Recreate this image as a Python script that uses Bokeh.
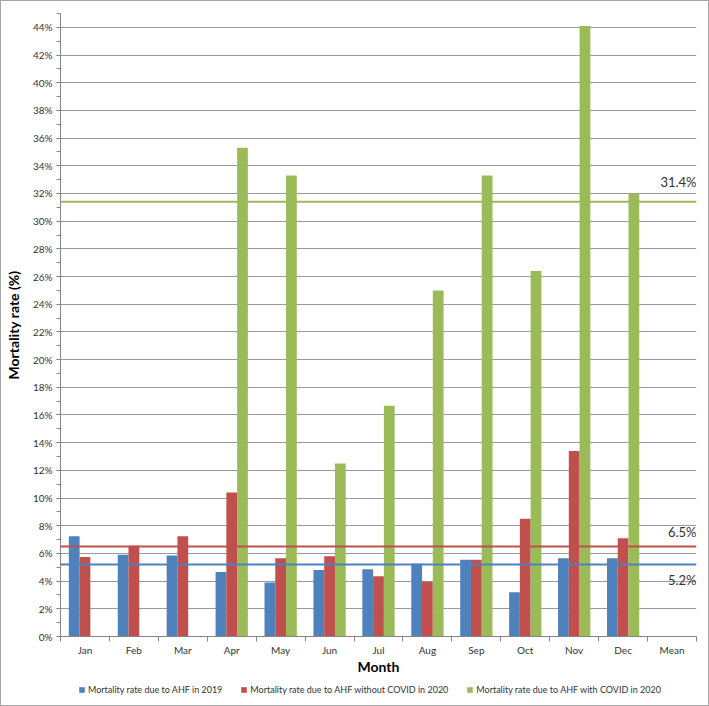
import numpy as np
from bokeh.plotting import figure
from bokeh.layouts import column
from bokeh.models import (ColumnDataSource, Range1d, FixedTicker, SingleIntervalTicker,
                          CustomJSTickFormatter, Span, Label, Legend, LegendItem)
from bokeh.transform import dodge
from bokeh.embed import file_html
from bokeh.resources import INLINE

# ---------------- data ----------------
categories = ["Jan", "Feb", "Mar", "Apr", "May", "Jun", "Jul", "Aug", "Sep", "Oct", "Nov", "Dec", "Mean"]
months = categories[:12]
rate_2019 = [7.25, 5.9, 5.85, 4.65, 3.9, 4.8, 4.85, 5.25, 5.55, 3.2, 5.65, 5.65]
rate_2020_no_covid = [5.75, 6.55, 7.25, 10.4, 5.65, 5.8, 4.35, 3.95, 5.55, 8.5, 13.4, 7.1]
rate_2020_covid = [0, 0, 0, 35.3, 33.3, 12.5, 16.67, 25.0, 33.3, 26.4, 44.1, 32.0]
means = [5.2, 6.5, 31.4]
series_names = ["Mortality rate due to AHF in 2019",
                "Mortality rate due to AHF without COVID in 2020",
                "Mortality rate due to AHF with COVID in 2020"]

# ---------------- styles ----------------
colors = ["#4F81BD", "#C0504D", "#9BBB59"]
FONT = "Lato"
GRID = "#9a9a9a"
AXIS = "#868686"
TXT = "#333333"

src = ColumnDataSource(dict(
    x=np.arange(len(months)) + 0.5,
    a=rate_2019, b=rate_2020_no_covid, c=rate_2020_covid,
))

p = figure(frame_width=636, frame_height=623, output_backend="svg", toolbar_location=None,
           x_range=Range1d(0, len(categories)), y_range=Range1d(0, 45),
           min_border_left=59, min_border_right=12, min_border_top=12, min_border_bottom=44)
p.outline_line_color = None
p.background_fill_color = "white"
p.border_fill_color = "white"

bar_w = 0.22
p.vbar(x=dodge("x", -bar_w, range=p.x_range), top="a", width=bar_w, bottom=0,
       source=src, fill_color=colors[0], line_color=None)
p.vbar(x=dodge("x", 0, range=p.x_range), top="b", width=bar_w, bottom=0,
       source=src, fill_color=colors[1], line_color=None)
p.vbar(x=dodge("x", bar_w, range=p.x_range), top="c", width=bar_w, bottom=0,
       source=src, fill_color=colors[2], line_color=None)

# mean lines and labels
offsets = [(-7, "top"), (7, "bottom"), (12, "bottom")]
for m, col, (off, base) in zip(means, colors, offsets):
    p.add_layout(Span(location=m, dimension="width", line_color=col, line_width=2))
    p.add_layout(Label(x=len(categories), y=m, text=f"{m:.1f}%", text_align="right",
                       text_baseline=base, y_offset=off, x_offset=0,
                       text_font=FONT, text_font_size="13px", text_color=TXT))

# grid
p.xgrid.grid_line_color = None
p.ygrid.grid_line_color = GRID
p.ygrid.grid_line_width = 1

# y axis
ya = p.yaxis[0]
ya.ticker = SingleIntervalTicker(interval=2, num_minor_ticks=2)
ya.formatter = CustomJSTickFormatter(code="return tick.toFixed(0) + '%';")
ya.axis_label = "Mortality rate (%)"
ya.axis_label_text_font = FONT
ya.axis_label_text_font_style = "bold"
ya.axis_label_text_font_size = "14px"
ya.axis_label_text_color = "#000000"
ya.axis_label_standoff = 8
ya.major_label_text_font = FONT
ya.major_label_text_font_size = "10px"
ya.major_label_text_color = TXT
ya.major_label_standoff = 4
ya.axis_line_color = AXIS
ya.major_tick_line_color = AXIS
ya.minor_tick_line_color = AXIS
ya.major_tick_in = 0
ya.major_tick_out = 4
ya.minor_tick_in = 0
ya.minor_tick_out = 4

# x axis: labels at category centres, ticks at category boundaries
xa = p.xaxis[0]
centres = [i + 0.5 for i in range(len(categories))]
xa.ticker = FixedTicker(ticks=centres, minor_ticks=list(range(len(categories) + 1)))
xa.major_label_overrides = {c: lab for c, lab in zip(centres, categories)}
xa.axis_label = "Month"
xa.axis_label_text_font = FONT
xa.axis_label_text_font_style = "bold"
xa.axis_label_text_font_size = "14px"
xa.axis_label_text_color = "#000000"
xa.axis_label_standoff = -1
xa.major_label_text_font = FONT
xa.major_label_text_font_size = "10px"
xa.major_label_text_color = TXT
xa.major_label_standoff = 2
xa.axis_line_color = AXIS
xa.major_tick_line_color = None
xa.major_tick_in = 0
xa.major_tick_out = 5
xa.minor_tick_line_color = AXIS
xa.minor_tick_in = 0
xa.minor_tick_out = 5

# legend strip below the chart (zero-height proxy bars carry the legend swatches)
lf = figure(width=707, height=25, output_backend="svg", toolbar_location=None,
            x_axis_type=None, y_axis_type=None, min_border=0,
            x_range=Range1d(0, 1), y_range=Range1d(0, 1))
lf.outline_line_color = None
lf.background_fill_color = "white"
lf.border_fill_color = "white"
proxies = [lf.vbar(x=[0], top=[0], bottom=[0], width=0.01, fill_color=c, line_color=None)
           for c in colors]
legend = Legend(items=[LegendItem(label=n, renderers=[r]) for n, r in zip(series_names, proxies)],
                orientation="horizontal", location=(18, 10),
                glyph_width=7, glyph_height=7, label_height=12, label_standoff=3,
                spacing=18, padding=3, margin=0,
                label_text_font=FONT, label_text_font_size="9px", label_text_color=TXT,
                border_line_color=None, background_fill_alpha=0)
lf.add_layout(legend)

layout = column(p, lf, spacing=0, styles={"border": "1px solid #a6a6a6"})

open("out.html", "w").write(file_html(layout, INLINE))
